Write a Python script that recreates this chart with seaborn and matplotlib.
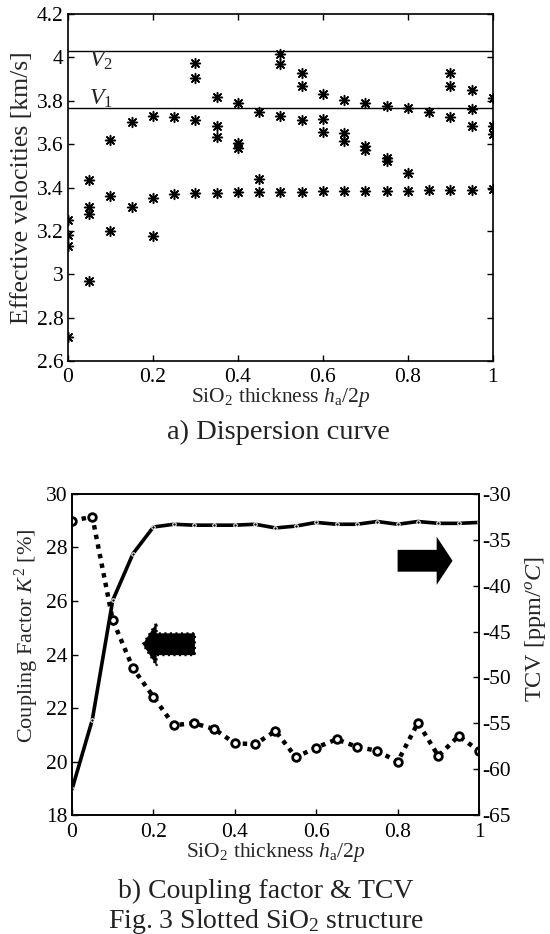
import numpy as np
import pandas as pd
import matplotlib
matplotlib.use("Agg")
import matplotlib.pyplot as plt
import seaborn as sns
from matplotlib.patches import FancyArrow

# ---- data ----
thickness = [0.0, 0.05, 0.1, 0.15, 0.2, 0.25, 0.3, 0.35, 0.4, 0.45, 0.5,
             0.55, 0.6, 0.65, 0.7, 0.75, 0.8, 0.85, 0.9, 0.95, 1.0]

# effective velocities found at each thickness [km/s]
velocities = [
    [3.25, 3.18, 3.13, 2.71],
    [3.435, 3.31, 3.28, 2.97],
    [3.62, 3.36, 3.20],
    [3.70, 3.31],
    [3.73, 3.35, 3.175],
    [3.725, 3.37],
    [3.975, 3.905, 3.71, 3.373],
    [3.816, 3.685, 3.635, 3.376],
    [3.788, 3.604, 3.582, 3.378],
    [3.750, 3.440, 3.377],
    [4.014, 3.968, 3.730, 3.381],
    [3.927, 3.868, 3.711, 3.381],
    [3.830, 3.715, 3.655, 3.384],
    [3.804, 3.650, 3.616, 3.384],
    [3.788, 3.593, 3.575, 3.384],
    [3.776, 3.537, 3.522, 3.384],
    [3.765, 3.466, 3.385],
    [3.747, 3.389],
    [3.927, 3.868, 3.724, 3.389],
    [3.850, 3.763, 3.685, 3.389],
    [3.814, 3.684, 3.647, 3.393],
]
v1_level = 3.768
v2_level = 4.031

k2 = [29.0, 29.15, 25.29, 23.48, 22.42, 21.36, 21.43, 21.21, 20.68, 20.65,
      21.14, 20.16, 20.52, 20.83, 20.55, 20.40, 19.99, 21.45, 20.21, 20.95, 20.40]
tcv = [-62.2, -54.6, -41.6, -36.5, -33.6, -33.3, -33.4, -33.4, -33.4, -33.3,
       -33.7, -33.5, -33.1, -33.3, -33.3, -33.0, -33.3, -33.0, -33.2, -33.2, -33.1]

x_ticks = [0, 0.2, 0.4, 0.6, 0.8, 1.0]
x_tick_labels = ["0", "0.2", "0.4", "0.6", "0.8", "1"]
v_ticks = [2.6, 2.8, 3.0, 3.2, 3.4, 3.6, 3.8, 4.0, 4.2]
v_tick_labels = ["2.6", "2.8", "3", "3.2", "3.4", "3.6", "3.8", "4", "4.2"]
k2_ticks = [18, 20, 22, 24, 26, 28, 30]
tcv_ticks = [-65, -60, -55, -50, -45, -40, -35, -30]

disp_df = pd.DataFrame(
    [(t, v) for t, vs in zip(thickness, velocities) for v in vs],
    columns=["thickness", "velocity"],
)
bottom_df = pd.DataFrame({"thickness": thickness, "k2": k2, "tcv": tcv})

# ---- style ----
sns.set_theme(style="ticks")
plt.rcParams["font.family"] = ["Liberation Serif", "DejaVu Serif"]
plt.rcParams["mathtext.fontset"] = "custom"
plt.rcParams["mathtext.rm"] = "Liberation Serif"
plt.rcParams["mathtext.it"] = "Liberation Serif:italic"
plt.rcParams["xtick.direction"] = "in"
plt.rcParams["ytick.direction"] = "in"
plt.rcParams["axes.edgecolor"] = "black"
plt.rcParams["axes.linewidth"] = 1.2
plt.rcParams["xtick.color"] = "black"
plt.rcParams["ytick.color"] = "black"
plt.rcParams["text.color"] = "#222222"

tick_fs = 15.5
xlabel_fs = 15.5
caption_fs = 20
xlabel = r"SiO$_2$ thickness $h_\mathrm{a}$/2$p$"

fig = plt.figure(figsize=(5.5, 9.34), dpi=100)

# ---- a) dispersion curve ----
ax = fig.add_axes([0.1236, 0.6135, 0.7727, 0.3715])
sns.scatterplot(data=disp_df, x="thickness", y="velocity", ax=ax,
                marker=(8, 2, 0), color="black", s=50, linewidth=1.1,
                legend=False)
ax.axhline(v2_level, color="black", lw=1.0)
ax.axhline(v1_level, color="black", lw=1.0)
ax.text(0.05, 3.957, r"$V_2$", fontsize=17, va="baseline", ha="left")
ax.text(0.05, v1_level + 0.012, r"$V_1$", fontsize=17, va="baseline", ha="left")
ax.set_xlim(0, 1)
ax.set_ylim(2.6, 4.2)
ax.set_xticks(x_ticks)
ax.set_xticklabels(x_tick_labels, fontsize=tick_fs)
ax.set_yticks(v_ticks)
ax.set_yticklabels(v_tick_labels, fontsize=tick_fs)
ax.tick_params(top=True, right=True, length=4, width=1)
ax.tick_params(axis="x", pad=5)
ax.tick_params(axis="y", pad=3)
ax.set_xlabel(xlabel, fontsize=xlabel_fs, labelpad=-1)
ax.set_ylabel("Effective velocities [km/s]", fontsize=18.5, labelpad=3)

# ---- b) coupling factor & TCV ----
bx = fig.add_axes([0.1309, 0.1274, 0.740, 0.3437])
sns.lineplot(data=bottom_df, x="thickness", y="k2", ax=bx, color="black",
             linestyle=(0, (1, 1.2)), lw=3.2, marker="o", markersize=5.5,
             markerfacecolor="white", markeredgecolor="black",
             markeredgewidth=2, dash_capstyle="butt")
bx.set_xlim(0, 1)
bx.set_ylim(18, 30)
bx.set_xticks(x_ticks)
bx.set_xticklabels(x_tick_labels, fontsize=tick_fs)
bx.set_yticks(k2_ticks)
bx.set_yticklabels([str(t) for t in k2_ticks], fontsize=tick_fs)
bx.tick_params(length=4, width=1)
bx.tick_params(axis="x", pad=6)
bx.tick_params(axis="y", pad=3)
bx.set_xlabel(xlabel, fontsize=xlabel_fs, labelpad=-1)
bx.set_ylabel(r"Coupling Factor $K^2$ [%]", fontsize=16, labelpad=4)
bx.yaxis.label.set_y(0.558)

tx = bx.twinx()
sns.lineplot(data=bottom_df, x="thickness", y="tcv", ax=tx, color="black",
             lw=2.6, marker="o", markersize=2.5)
tx.set_ylim(-65, -30)
tx.set_yticks(tcv_ticks)
tx.set_yticklabels([str(t) for t in tcv_ticks], fontsize=tick_fs)
tx.tick_params(length=4, width=1, pad=2)
tx.set_ylabel(r"TCV [ppm/$^oC$]", fontsize=17.5, labelpad=9)
tx.yaxis.label.set_y(0.579)

# arrows telling which curve belongs to which axis
bx.add_patch(FancyArrow(0.302, 0.532, -0.128, 0, width=0.068,
                        head_width=0.135, head_length=0.034,
                        length_includes_head=True, transform=bx.transAxes,
                        facecolor="black", edgecolor="black", lw=1.5,
                        linestyle=":"))
tx.add_patch(FancyArrow(0.80, 0.792, 0.135, 0, width=0.068,
                        head_width=0.15, head_length=0.039,
                        length_includes_head=True, transform=tx.transAxes,
                        facecolor="black", edgecolor="black", lw=0))

# ---- captions ----
fig.text(0.507, 1 - 432 / 934, "a) Dispersion curve", fontsize=20.5,
         ha="center", va="center")
fig.text(0.483, 1 - 891 / 934, "b) Coupling factor & TCV", fontsize=caption_fs,
         ha="center", va="center")
fig.text(0.483, 1 - 921 / 934, r"Fig. 3 Slotted SiO$_2$ structure",
         fontsize=caption_fs, ha="center", va="center")

fig.savefig("out.png", dpi=100)
